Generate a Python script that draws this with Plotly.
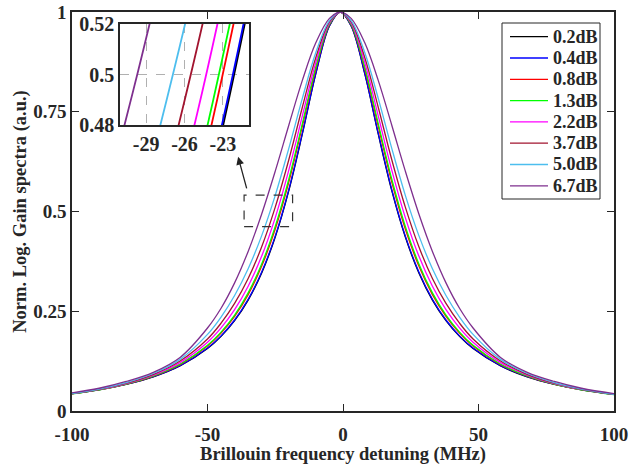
import plotly.graph_objects as go

# ---------------- data ----------------
detuning = [-100, -90, -80, -70, -60, -50, -45, -40, -35, -30, -25, -20, -15, -10, -5, -1,
            3, 8, 13, 18, 23, 28, 33, 38, 43, 48, 58, 68, 78, 88, 100]

labels = ["0.2dB", "0.4dB", "0.8dB", "1.3dB", "2.2dB", "3.7dB", "5.0dB", "6.7dB"]

g_02 = [0.0435, 0.0532, 0.0666, 0.0855, 0.1134, 0.1564, 0.1870, 0.2264, 0.2780, 0.3461, 0.4360, 0.5522,
        0.6943, 0.8461, 0.9653, 1.0,
        0.9653, 0.8461, 0.6943, 0.5522, 0.4360, 0.3461, 0.2780, 0.2264, 0.1870, 0.1564, 0.1134, 0.0855,
        0.0666, 0.0532, 0.0418]
g_04 = [0.0438, 0.0537, 0.0672, 0.0863, 0.1143, 0.1577, 0.1884, 0.2281, 0.2799, 0.3483, 0.4383, 0.5545,
        0.6963, 0.8473, 0.9656, 1.0,
        0.9656, 0.8473, 0.6963, 0.5545, 0.4383, 0.3483, 0.2799, 0.2281, 0.1884, 0.1577, 0.1143, 0.0863,
        0.0672, 0.0537, 0.0422]
g_08 = [0.0432, 0.0533, 0.0673, 0.0873, 0.1169, 0.1627, 0.1952, 0.2371, 0.2917, 0.3631, 0.4560, 0.5737,
        0.7138, 0.8584, 0.9685, 1.0,
        0.9685, 0.8584, 0.7138, 0.5737, 0.4560, 0.3631, 0.2917, 0.2371, 0.1952, 0.1627, 0.1169, 0.0873,
        0.0673, 0.0533, 0.0415]
g_13 = [0.0429, 0.0532, 0.0674, 0.0877, 0.1178, 0.1646, 0.1978, 0.2405, 0.2962, 0.3686, 0.4626, 0.5809,
        0.7201, 0.8623, 0.9696, 1.0,
        0.9696, 0.8623, 0.7201, 0.5809, 0.4626, 0.3686, 0.2962, 0.2405, 0.1978, 0.1646, 0.1178, 0.0877,
        0.0674, 0.0532, 0.0412]
g_22 = [0.0434, 0.0540, 0.0688, 0.0900, 0.1220, 0.1725, 0.2084, 0.2539, 0.3126, 0.3882, 0.4847, 0.6035,
        0.7395, 0.8740, 0.9725, 1.0,
        0.9725, 0.8740, 0.7395, 0.6035, 0.4847, 0.3882, 0.3126, 0.2539, 0.2084, 0.1725, 0.1220, 0.0900,
        0.0688, 0.0540, 0.0416]
g_37 = [0.0434, 0.0544, 0.0698, 0.0920, 0.1260, 0.1805, 0.2200, 0.2696, 0.3321, 0.4116, 0.5109, 0.6297,
        0.7613, 0.8866, 0.9756, 1.0,
        0.9756, 0.8866, 0.7613, 0.6297, 0.5109, 0.4116, 0.3321, 0.2696, 0.2200, 0.1805, 0.1260, 0.0920,
        0.0698, 0.0544, 0.0415]
g_50 = [0.0438, 0.0550, 0.0710, 0.0940, 0.1300, 0.1920, 0.2355, 0.2895, 0.3566, 0.4395, 0.5405, 0.6581,
        0.7835, 0.8989, 0.9785, 1.0,
        0.9785, 0.8989, 0.7835, 0.6581, 0.5405, 0.4395, 0.3566, 0.2895, 0.2355, 0.1920, 0.1300, 0.0940,
        0.0710, 0.0550, 0.0420]
g_67 = [0.0455, 0.0570, 0.0740, 0.0970, 0.1350, 0.2080, 0.2575, 0.3211, 0.3999, 0.4939, 0.6012, 0.7163,
        0.8286, 0.9233, 0.9841, 1.0,
        0.9841, 0.9233, 0.8286, 0.7163, 0.6012, 0.4939, 0.3999, 0.3211, 0.2575, 0.2080, 0.1350, 0.0970,
        0.0740, 0.0570, 0.0435]

series = [g_02, g_04, g_08, g_13, g_22, g_37, g_50, g_67]
colors = ["#000000", "#0000FF", "#FF0000", "#00FF00", "#FF00FF", "#A2142F", "#4DBEEE", "#7E2F8E"]

x_ticks = [-100, -50, 0, 50, 100]
x_ticktext = ["-100", "-50", "0", "50", "100"]
y_ticks = [0, 0.25, 0.5, 0.75, 1]
y_ticktext = ["0", "0.25", "0.5", "0.75", "1"]

inset_x_ticks = [-29, -26, -23]
inset_x_ticktext = ["-29", "-26", "-23"]
inset_y_ticks = [0.48, 0.5, 0.52]
inset_y_ticktext = ["0.48", "0.5", "0.52"]

# ---------------- figure ----------------
FONT = "Liberation Serif"
AX = "#262626"
W, H = 640, 465
L, R, T, B = 72, 26, 12, 54


def px_x(px):
    return (px - L) / (W - L - R)


def px_y(py):
    return (H - B - py) / (H - T - B)


fig = go.Figure()
for name, vals, col in zip(labels, series, colors):
    fig.add_trace(go.Scatter(x=detuning, y=vals, mode="lines", name=name, showlegend=False,
                             line=dict(color=col, width=1.3, shape="spline", smoothing=1.0),
                             xaxis="x", yaxis="y"))
for name, vals, col in zip(labels, series, colors):
    fig.add_trace(go.Scatter(x=detuning, y=vals, mode="lines", name=name, showlegend=False,
                             line=dict(color=col, width=1.8, shape="spline", smoothing=1.0),
                             xaxis="x2", yaxis="y2"))

fig.update_layout(
    width=W, height=H,
    margin=dict(l=L, r=R, t=T, b=B, autoexpand=False),
    paper_bgcolor="white", plot_bgcolor="white",
    font=dict(family=FONT, size=19, color=AX, weight="bold"),
    xaxis=dict(domain=[0, 1], range=[-100, 100], tickvals=x_ticks, ticktext=x_ticktext,
               ticks="inside", ticklen=7, tickwidth=1.3, tickcolor=AX, ticklabelstandoff=5,
               showline=True, linecolor=AX, linewidth=1.5, mirror="ticks",
               showgrid=False, zeroline=False, automargin=False,
               title=dict(text="Brillouin frequency detuning (MHz)", standoff=2,
                          font=dict(size=18.5, weight="bold"))),
    yaxis=dict(domain=[0, 1], range=[0, 1], tickvals=y_ticks, ticktext=y_ticktext,
               ticks="inside", ticklen=7, tickwidth=1.3, tickcolor=AX,
               showline=True, linecolor=AX, linewidth=1.5, mirror="ticks",
               showgrid=False, zeroline=False, automargin=False,
               title=dict(text="Norm. Log. Gain spectra (a.u.)", standoff=2,
                          font=dict(size=18.5, weight="bold"))),
    xaxis2=dict(domain=[px_x(120), px_x(249)], anchor="y2", range=[-31.05, -20.95],
                tickvals=inset_x_ticks, ticktext=inset_x_ticktext, ticks="",
                showline=True, linecolor=AX, linewidth=1.5, mirror=True, automargin=False,
                showgrid=True, gridcolor="#B0B0B0", griddash="dash", gridwidth=1,
                zeroline=False, tickfont=dict(size=20)),
    yaxis2=dict(domain=[px_y(125), px_y(24)], anchor="x2", range=[0.48, 0.52],
                tickvals=inset_y_ticks, ticktext=inset_y_ticktext, ticks="",
                showline=True, linecolor=AX, linewidth=1.5, mirror=True, automargin=False,
                showgrid=True, gridcolor="#B0B0B0", griddash="dash", gridwidth=1,
                zeroline=False, tickfont=dict(size=20)),
    showlegend=False,
)

# dashed zoom box and arrow
fig.add_shape(type="rect", xref="x", yref="y", x0=-36.5, x1=-18.6, y0=0.462, y1=0.541,
              line=dict(color="#333333", width=1.2, dash="dash"))
fig.add_annotation(xref="x", yref="y", axref="x", ayref="y",
                   x=-38.7, y=0.637, ax=-35.4, ay=0.554, text="",
                   showarrow=True, arrowhead=2, arrowsize=1.2, arrowwidth=1.3, arrowcolor="#222222")

# legend box (drawn manually to match the MATLAB-style legend)
fig.add_shape(type="rect", xref="paper", yref="paper",
              x0=px_x(502), x1=px_x(600), y0=px_y(199), y1=px_y(23),
              line=dict(color=AX, width=1), fillcolor="white", layer="above")
for i, (name, col) in enumerate(zip(labels, colors)):
    yy = px_y(36.7 + 21.3 * i)
    fig.add_shape(type="line", xref="paper", yref="paper",
                  x0=px_x(510), x1=px_x(548), y0=yy, y1=yy,
                  line=dict(color=col, width=1.3), layer="above")
    fig.add_annotation(xref="paper", yref="paper", x=px_x(551), y=yy, text=name,
                       showarrow=False, xanchor="left", yanchor="middle",
                       font=dict(size=18, weight="bold", color=AX))

fig.write_html("out.html")
